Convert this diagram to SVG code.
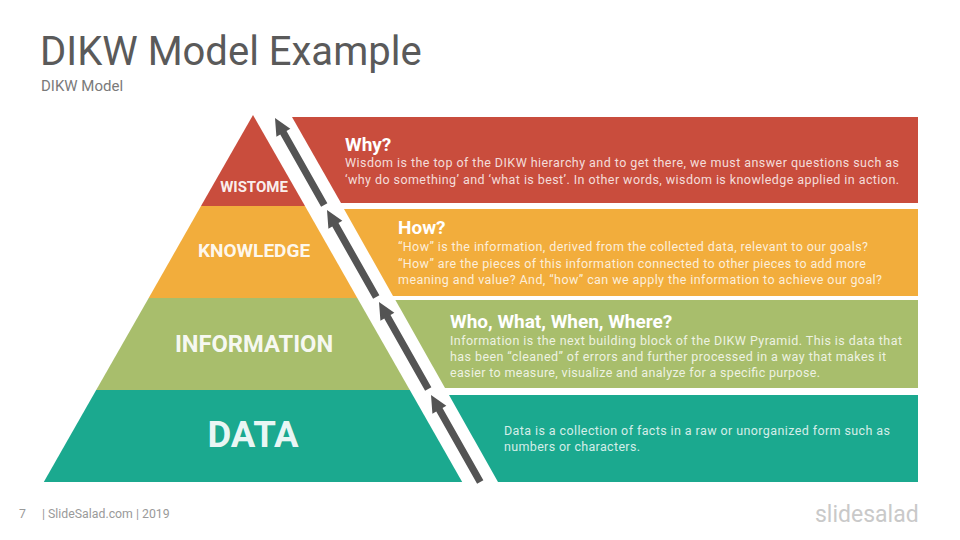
<svg xmlns="http://www.w3.org/2000/svg" xmlns:xlink="http://www.w3.org/1999/xlink" width="960" height="540" viewBox="0 0 960 540">
  <defs>
    <path id="arrow" d="M0,0 L8,17 L3.6,17 L3.6,100 L-3.6,100 L-3.6,17 L-8,17 Z"/>
  </defs>
  <style>
    .title{font-family:Roboto,"Liberation Sans",sans-serif;font-size:40px;fill:#5a5a5a}
    .sub{font-family:Roboto,"Liberation Sans",sans-serif;font-size:15px;fill:#7a7a7a}
    .plabel{font-family:Roboto,"Liberation Sans",sans-serif;font-weight:bold;fill:#ffffff;fill-opacity:0.93;text-anchor:middle}
    .head{font-family:Roboto,"Liberation Sans",sans-serif;font-weight:bold;font-size:19px;fill:#ffffff}
    .body{font-family:Roboto,"Liberation Sans",sans-serif;font-size:12.5px;fill:#ffffff;fill-opacity:0.82}
    .foot{font-family:Roboto,"Liberation Sans",sans-serif;font-size:12.3px;fill:#9a9a9a}
    .logo{font-family:Roboto,"Liberation Sans",sans-serif;font-size:23px;fill:#c9c9c9}
    .arr{fill:#545454}
  </style>
  <rect width="960" height="540" fill="#ffffff"/>

  <text class="title" x="40" y="65">DIKW Model Example</text>
  <text class="sub" x="41" y="91">DIKW Model</text>

  <g id="pyramid-wisdom">
    <polygon points="253,115 305,206 201,206" fill="#C94D3D"/>
    <text class="plabel" x="254" y="192" font-size="15">WISTOME</text>
  </g>
  <g id="pyramid-knowledge">
    <polygon points="201,206 305,206 357.3,298 148.7,298" fill="#F2AD3C"/>
    <text class="plabel" x="254" y="257" font-size="19">KNOWLEDGE</text>
  </g>
  <g id="pyramid-information">
    <polygon points="148.7,298 357.3,298 409.8,390 96.2,390" fill="#A8BE6C"/>
    <text class="plabel" x="254" y="352" font-size="23.7">INFORMATION</text>
  </g>
  <g id="pyramid-data">
    <polygon points="96.2,390 409.8,390 462.2,482 43.8,482" fill="#1BA98F"/>
    <text class="plabel" x="253" y="447" font-size="36.6">DATA</text>
  </g>

  <g id="band-why">
    <polygon points="292,117 918,117 918,203 341,203" fill="#C94D3D"/>
    <text class="head" x="345" y="151">Why?</text>
    <text class="body" x="345" y="167" textLength="554" lengthAdjust="spacing">Wisdom is the top of the DIKW hierarchy and to get there, we must answer questions such as</text>
    <text class="body" x="345" y="184" textLength="554" lengthAdjust="spacing">‘why do something’ and ‘what is best’. In other words, wisdom is knowledge applied in action.</text>
  </g>
  <g id="band-how">
    <polygon points="344,209 918,209 918,296 393,296" fill="#F2AD3C"/>
    <text class="head" x="398" y="234">How?</text>
    <text class="body" x="398" y="251" textLength="470" lengthAdjust="spacing">“How” is the information,  derived from the collected data, relevant to our goals?</text>
    <text class="body" x="398" y="268" textLength="468" lengthAdjust="spacing">“How” are the pieces of this information  connected to other pieces to add more</text>
    <text class="body" x="398" y="284" textLength="484" lengthAdjust="spacing">meaning and value? And, “how” can we apply the information  to achieve our goal?</text>
  </g>
  <g id="band-who">
    <polygon points="395.4,300 918,300 918,388 445,388" fill="#A8BE6C"/>
    <text class="head" x="450" y="328">Who, What, When, Where?</text>
    <text class="body" x="450" y="345" textLength="452" lengthAdjust="spacing">Information  is the next building block of the DIKW Pyramid.  This is data that</text>
    <text class="body" x="450" y="361" textLength="436" lengthAdjust="spacing">has been “cleaned” of errors and further processed  in a way that makes it</text>
    <text class="body" x="450" y="377" textLength="370" lengthAdjust="spacing">easier to measure, visualize and analyze for a specific purpose.</text>
  </g>
  <g id="band-data">
    <polygon points="449,395 918,395 918,482 498,482" fill="#1BA98F"/>
    <text class="body" x="504" y="435" textLength="386" lengthAdjust="spacing">Data is a collection of facts in a raw or unorganized  form  such as</text>
    <text class="body" x="504" y="451" textLength="136" lengthAdjust="spacing">numbers  or characters.</text>
  </g>

  <g id="connectors">
    <use xlink:href="#arrow" class="arr" transform="translate(275,118) rotate(-29.5)"/>
    <use xlink:href="#arrow" class="arr" transform="translate(327,210) rotate(-29.5)"/>
    <use xlink:href="#arrow" class="arr" transform="translate(379,302) rotate(-29.5)"/>
    <use xlink:href="#arrow" class="arr" transform="translate(431,395) rotate(-29.5)"/>
  </g>

  <g id="footer">
    <text class="foot" x="19" y="518">7</text>
    <text class="foot" x="42" y="518">| SlideSalad.com | 2019</text>
    <text class="logo" x="815" y="522">slidesalad</text>
  </g>
</svg>
